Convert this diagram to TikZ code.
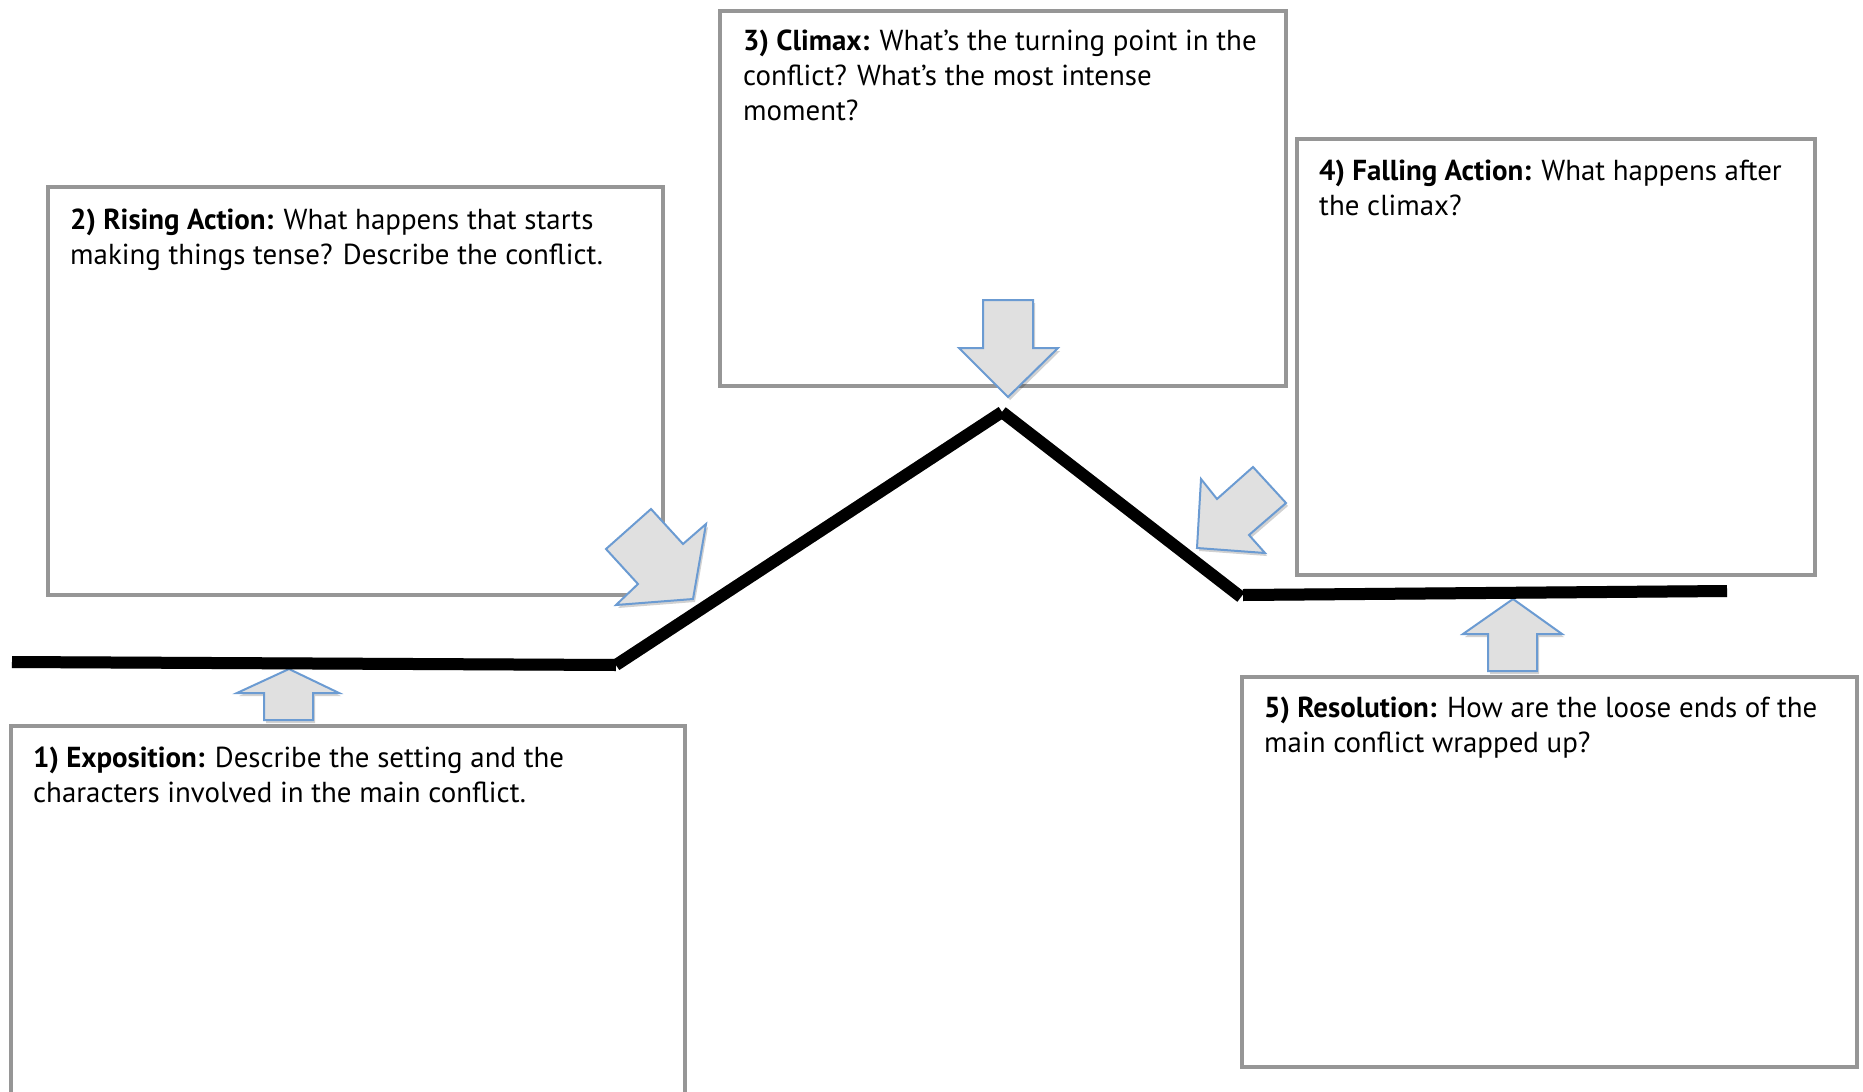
\documentclass[tikz,border=0pt]{standalone}
\usepackage{fontspec}
\setmainfont{PT Sans}
\definecolor{panelgray}{HTML}{969696}
\definecolor{arrowfill}{HTML}{E0E0E0}
\definecolor{arrowblue}{HTML}{6B9BD2}
\begin{document}
\begin{tikzpicture}[x=1pt,y=-1pt,
  panel/.style={draw=panelgray, line width=4pt, fill=white, rectangle, inner sep=0pt},
  txt/.style={anchor=north west, align=left, inner sep=0pt, font=\fontsize{28.9}{35}\selectfont},
  blockarrow/.style={draw=arrowblue, fill=arrowfill, line width=2pt, line join=miter},
  arrowshadow/.style={fill=black, opacity=0.18},
  plotline/.style={line width=12pt, line cap=butt, black},
  lineshadow/.style={line width=12pt, line cap=butt, black, opacity=0.2}]
\clip (0,0) rectangle (1863,1092);
\fill[white] (0,0) rectangle (1863,1092);

% panels
\node[panel, minimum width=674pt, minimum height=400pt] (b1) at (348,926) {};
\node[panel, minimum width=615pt, minimum height=408pt] (b2) at (355.5,391) {};
\node[panel, minimum width=566pt, minimum height=375pt] (b3) at (1003,198.5) {};
\node[panel, minimum width=518pt, minimum height=436pt] (b4) at (1556,357) {};
\node[panel, minimum width=615pt, minimum height=390pt] (b5) at (1549.5,872) {};

% texts
\node[txt] (t1) at (33,747) {\textbf{1) Exposition:} Describe the setting and the\\characters involved in the main conflict.};
\node[txt] (t2) at (70,209) {\textbf{2) Rising Action:} What happens that starts\\making things tense? Describe the conflict.};
\node[txt] (t3) at (743,30) {\textbf{3) Climax:} What’s the turning point in the\\conflict? What’s the most intense\\moment?};
\node[txt] (t4) at (1319,160) {\textbf{4) Falling Action:} What happens after\\the climax?};
\node[txt] (t5) at (1264,697) {\textbf{5) Resolution:} How are the loose ends of the\\main conflict wrapped up?};

% block arrows (shadows then shapes)
\begin{scope}[shift={(2,3)}]
\fill[arrowshadow] (289,669) -- (339,693) -- (313,693) -- (313,720) -- (264,720) -- (264,693) -- (237,693) -- cycle;
\fill[arrowshadow] (1513,599) -- (1562,634) -- (1537,634) -- (1537,671) -- (1488,671) -- (1488,634) -- (1463,634) -- cycle;
\fill[arrowshadow] (983,300) -- (1033,300) -- (1033,348) -- (1058,348) -- (1008,397) -- (959,348) -- (983,348) -- cycle;
\fill[arrowshadow] (606,549) -- (651,509) -- (683,544) -- (706,524) -- (693,599) -- (616,605) -- (638,584) -- cycle;
\fill[arrowshadow] (1201,479) -- (1217,499) -- (1253,467) -- (1286,503) -- (1249,535) -- (1265,553) -- (1197,548) -- cycle;
\end{scope}
\draw[blockarrow] (289,669) -- (339,693) -- (313,693) -- (313,720) -- (264,720) -- (264,693) -- (237,693) -- cycle;
\draw[blockarrow] (1513,599) -- (1562,634) -- (1537,634) -- (1537,671) -- (1488,671) -- (1488,634) -- (1463,634) -- cycle;
\draw[blockarrow] (983,300) -- (1033,300) -- (1033,348) -- (1058,348) -- (1008,397) -- (959,348) -- (983,348) -- cycle;
\draw[blockarrow] (606,549) -- (651,509) -- (683,544) -- (706,524) -- (693,599) -- (616,605) -- (638,584) -- cycle;
\draw[blockarrow] (1201,479) -- (1217,499) -- (1253,467) -- (1286,503) -- (1249,535) -- (1265,553) -- (1197,548) -- cycle;

% plot line
\coordinate (L1) at (12,662);
\coordinate (L2) at (616,665);
\coordinate (L3) at (1002,412);
\coordinate (L4) at (1241,597);
\coordinate (L5) at (1243,595);
\coordinate (L6) at (1727,591);
\begin{scope}[shift={(2,3)}]
\draw[lineshadow] (L1) -- (L2);
\draw[lineshadow] (L2) -- (L3);
\draw[lineshadow] (L3) -- (L4);
\draw[lineshadow] (L5) -- (L6);
\end{scope}
\draw[plotline] (L1) -- (L2);
\draw[plotline] (L2) -- (L3);
\draw[plotline] (L3) -- (L4);
\draw[plotline] (L5) -- (L6);
\end{tikzpicture}
\end{document}
